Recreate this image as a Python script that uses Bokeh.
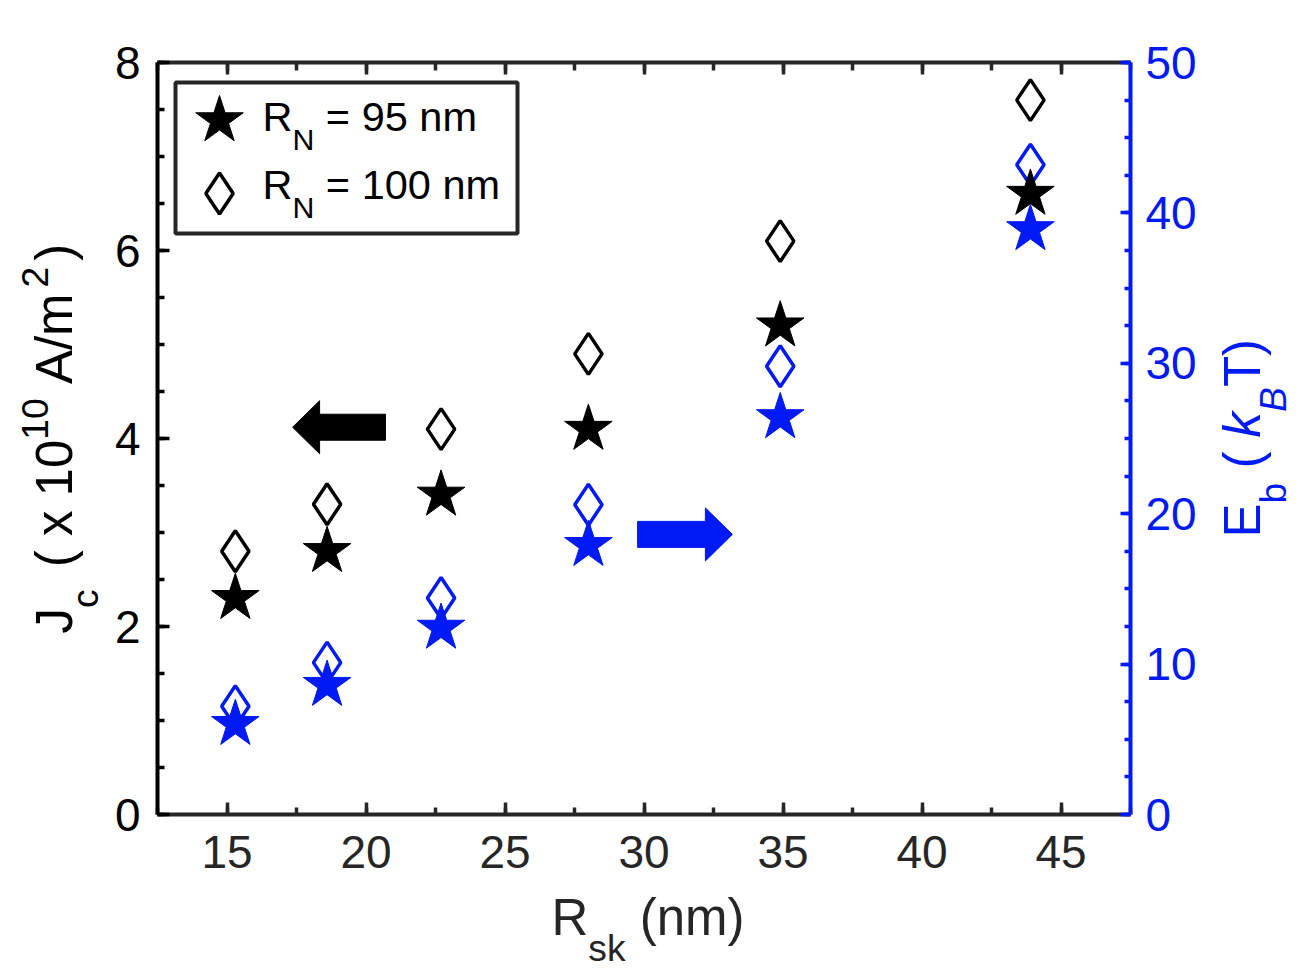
import math
from bokeh.plotting import figure
from bokeh.layouts import row, column
from bokeh.models import Range1d, LinearAxis, SingleIntervalTicker, Label
from bokeh.embed import file_html
from bokeh.resources import INLINE

# ---------------- data ----------------
r_sk = [15.3, 18.6, 22.7, 28.0, 34.9, 43.9]          # R_sk (nm)
jc_rn95 = [2.3, 2.8, 3.4, 4.1, 5.2, 6.6]              # J_c, R_N = 95 nm
jc_rn100 = [2.8, 3.3, 4.1, 4.9, 6.1, 7.6]             # J_c, R_N = 100 nm
eb_rn95 = [6.0, 8.6, 12.4, 17.9, 26.4, 38.9]          # E_b, R_N = 95 nm
eb_rn100 = [7.2, 10.1, 14.4, 20.6, 29.8, 43.2]        # E_b, R_N = 100 nm
legend_values = ["95", "100"]

X_RANGE = (12.5, 47.5)
JC_RANGE = (0, 8)
EB_RANGE = (0, 50)

# arrows (data units of x and left axis): tail x, tip x, y
arrow_jc = (20.70, 17.36, 4.12)
arrow_eb = (29.77, 33.18, 2.98)

# ---------------- layout / style ----------------
FONT = "Liberation Sans"
BLACK = "#000000"
DARK = "#262626"
BLUE = "#001AF5"
TICK_FS = 46
LABEL_FS = 51
LEG_FS = 41.5
SCRIPT = 0.73
MID = 0.346     # Label anchors at the middle of the em box

# page pixel layout
TOTAL_W, TOTAL_H = 1300, 969
LEFT_W = 110              # strip holding the left title
MAIN_X1 = 1215            # main figure right edge
MAIN_H = 888              # main figure height (bottom strip below)
FRAME_L, FRAME_T, FRAME_W, FRAME_H = 157, 62, 973, 752


def xd(px):
    return X_RANGE[0] + (px - FRAME_L) * (X_RANGE[1] - X_RANGE[0]) / FRAME_W


def yd(py):
    return JC_RANGE[1] - (py - FRAME_T) * (JC_RANGE[1] - JC_RANGE[0]) / FRAME_H


XU = (X_RANGE[1] - X_RANGE[0]) / FRAME_W       # data x per pixel
YU = (JC_RANGE[1] - JC_RANGE[0]) / FRAME_H     # data y per pixel

MAIN_W = MAIN_X1 - LEFT_W
p = figure(width=MAIN_W, height=MAIN_H,
           x_range=Range1d(*X_RANGE), y_range=Range1d(*JC_RANGE),
           output_backend="svg", toolbar_location=None)
p.extra_y_ranges = {"eb": Range1d(*EB_RANGE)}
p.min_border_left = FRAME_L - LEFT_W
p.min_border_top = FRAME_T
p.min_border_right = MAIN_W - (FRAME_L - LEFT_W) - FRAME_W
p.min_border_bottom = MAIN_H - FRAME_T - FRAME_H
p.outline_line_color = None
p.xgrid.visible = False
p.ygrid.visible = False
p.background_fill_color = "white"
p.border_fill_color = "white"


def style_axis(ax, color, label_color, mj, mn, standoff, fs=TICK_FS):
    ax.axis_line_color = color
    ax.axis_line_width = 4
    ax.major_tick_line_color = color
    ax.minor_tick_line_color = color
    ax.major_tick_line_width = 3.5
    ax.minor_tick_line_width = 3.5
    ax.major_tick_in = mj
    ax.major_tick_out = 0
    ax.minor_tick_in = mn
    ax.minor_tick_out = 0
    ax.major_label_text_font = FONT
    ax.major_label_text_font_size = f"{fs}px"
    ax.major_label_text_color = label_color
    ax.major_label_standoff = standoff


xb = p.xaxis[0]
xb.ticker = SingleIntervalTicker(interval=5, num_minor_ticks=2)
style_axis(xb, DARK, DARK, 12, 7, 21)

yl = p.yaxis[0]
yl.ticker = SingleIntervalTicker(interval=2, num_minor_ticks=4)
style_axis(yl, BLACK, BLACK, 12, 7, 17)

xt = LinearAxis(ticker=SingleIntervalTicker(interval=5, num_minor_ticks=2))
style_axis(xt, DARK, None, 12, 8, 0, fs=1)
p.add_layout(xt, "above")

yr = LinearAxis(y_range_name="eb",
                ticker=SingleIntervalTicker(interval=10, num_minor_ticks=4))
style_axis(yr, BLUE, BLUE, 10, 6, 15)
p.add_layout(yr, "right")

# ---------------- arrows ----------------
HEAD_LEN = 27 * XU
SHAFT_H = 13 * YU
HEAD_H = 26.5 * YU


def arrow_poly(tail, tip, y):
    d = 1 if tip > tail else -1
    base = tip - d * HEAD_LEN
    xs = [tail, base, base, tip, base, base, tail]
    ys = [y + SHAFT_H, y + SHAFT_H, y + HEAD_H, y, y - HEAD_H, y - SHAFT_H, y - SHAFT_H]
    return xs, ys


for arr, col in ((arrow_jc, BLACK), (arrow_eb, BLUE)):
    xs, ys = arrow_poly(*arr)
    p.patch(xs, ys, fill_color=col, line_color=col, line_width=1)

# ---------------- data markers ----------------
STAR = 50
DIAM = 41
p.scatter(r_sk, eb_rn100, marker="diamond", size=DIAM, fill_color=None,
          line_color=BLUE, line_width=3.5, y_range_name="eb")
p.scatter(r_sk, eb_rn95, marker="star", size=STAR, fill_color=BLUE,
          line_color=BLUE, line_width=1, y_range_name="eb")
p.scatter(r_sk, jc_rn100, marker="diamond", size=DIAM, fill_color=None,
          line_color=BLACK, line_width=3.5)
p.scatter(r_sk, jc_rn95, marker="star", size=STAR, fill_color=BLACK,
          line_color=BLACK, line_width=1)

# ---------------- legend box ----------------
p.quad(left=[xd(175)], right=[xd(517)], top=[yd(82)], bottom=[yd(233)],
       fill_color="white", line_color=DARK, line_width=4)
p.scatter([xd(219)], [yd(120)], marker="star", size=STAR, fill_color=BLACK,
          line_color=BLACK, line_width=1)
p.scatter([xd(219)], [yd(193)], marker="diamond", size=DIAM, fill_color=None,
          line_color=BLACK, line_width=3.5)


# ---------------- text strips around the main figure ----------------
def strip(x0, x1, y0, y1, fy0, fy1):
    """A blank figure covering page pixels x0..x1, y0..y1 whose frame
    (aligned by the layout) spans page rows fy0..fy1; data units = page px."""
    f = figure(width=x1 - x0, height=y1 - y0,
               x_range=Range1d(x0, x1), y_range=Range1d(fy1, fy0),
               output_backend="svg", toolbar_location=None,
               x_axis_location=None, y_axis_location=None)
    f.min_border = 0
    f.min_border_left = 0
    f.min_border_right = 0
    f.min_border_top = 0
    f.min_border_bottom = 0
    f.outline_line_color = None
    f.xgrid.visible = False
    f.ygrid.visible = False
    f.background_fill_color = "white"
    f.border_fill_color = "white"
    return f


FRAME_B = FRAME_T + FRAME_H
left_strip = strip(0, LEFT_W, 0, MAIN_H, FRAME_T, FRAME_B)
right_strip = strip(MAIN_X1, TOTAL_W, 0, MAIN_H, FRAME_T, FRAME_B)
bottom_strip = strip(0, TOTAL_W, MAIN_H, TOTAL_H, MAIN_H, TOTAL_H)

WIDTHS = {' ': 278, '(': 333, ')': 333, 'x': 500, '1': 556, '0': 556, '2': 556,
          '5': 556, '9': 556, 'A': 667, '/': 278, 'm': 833, 'J': 500, 'c': 500,
          'R': 722, 'N': 722, '=': 584, 'n': 556, 's': 500, 'k': 500, 'E': 667,
          'b': 556, 'B': 667, 'T': 611}


def tw(s, fs):
    return sum(WIDTHS.get(ch, 556) for ch in s) / 1000.0 * fs


def run(fig, pieces, start, base, fs, shift, color, vertical=False, to_data=None):
    """pieces: (text, kind, italic, gap_before). kind: 0 main, 1 sub, -1 sup.
    Positions are page pixels (baseline); to_data maps them to data units."""
    conv = to_data or (lambda a, b: (a, b))
    pos = start
    for text, kind, italic, gap in pieces:
        size = fs if kind == 0 else fs * SCRIPT
        stripped = text.lstrip(" ")
        lead = tw(text[:len(text) - len(stripped)], size)
        adv = tw(text, size)
        if vertical:
            bx = base + kind * shift - MID * size
            y0 = pos - gap - lead
            lx, ly = conv(bx, y0)
            lab = Label(x=lx, y=ly, text=stripped, angle=math.pi / 2)
            pos -= gap + adv
        else:
            by = base + kind * shift - MID * size
            x0 = pos + gap + lead
            lx, ly = conv(x0, by)
            lab = Label(x=lx, y=ly, text=stripped)
            pos += gap + adv
        lab.text_font = FONT
        lab.text_font_size = f"{size:.1f}px"
        lab.text_color = color
        lab.text_align = "left"
        lab.text_baseline = "alphabetic"
        if italic:
            lab.text_font_style = "italic"
        fig.add_layout(lab)


# x axis title
run(bottom_strip, [("R", 0, False, 0), ("sk", 1, False, 0), (" (nm)", 0, False, 0)],
    start=551, base=935, fs=LABEL_FS, shift=25, color=DARK)

# left axis title (reads bottom to top)
run(left_strip, [("J", 0, False, 0), ("c", 1, False, 0), (" ( x 10", 0, False, 8),
                 ("10", -1, False, 0), (" A/m", 0, False, 0), ("2", -1, False, 6),
                 (")", 0, False, 6)],
    start=633, base=72, fs=LABEL_FS, shift=25, color=BLACK, vertical=True)

# right axis title
run(right_strip, [("E", 0, False, 0), ("b", 1, False, 0), (" (", 0, False, 0),
                  (" k", 0, True, 0), ("B", 1, True, 0), ("T", 0, False, 0),
                  (")", 0, False, 0)],
    start=537, base=1260, fs=LABEL_FS, shift=25, color=BLUE, vertical=True)

# legend texts (inside the main frame)
for i, v in enumerate(legend_values):
    base = 130 + i * 68
    run(p, [("R", 0, False, 0), ("N", 1, False, 0), (f" = {v} nm", 0, False, 0)],
        start=262, base=base, fs=LEG_FS, shift=19, color=BLACK,
        to_data=lambda a, b: (xd(a), yd(b)))

layout = column(row(left_strip, p, right_strip), bottom_strip)
open("out.html", "w").write(file_html(layout, INLINE))
